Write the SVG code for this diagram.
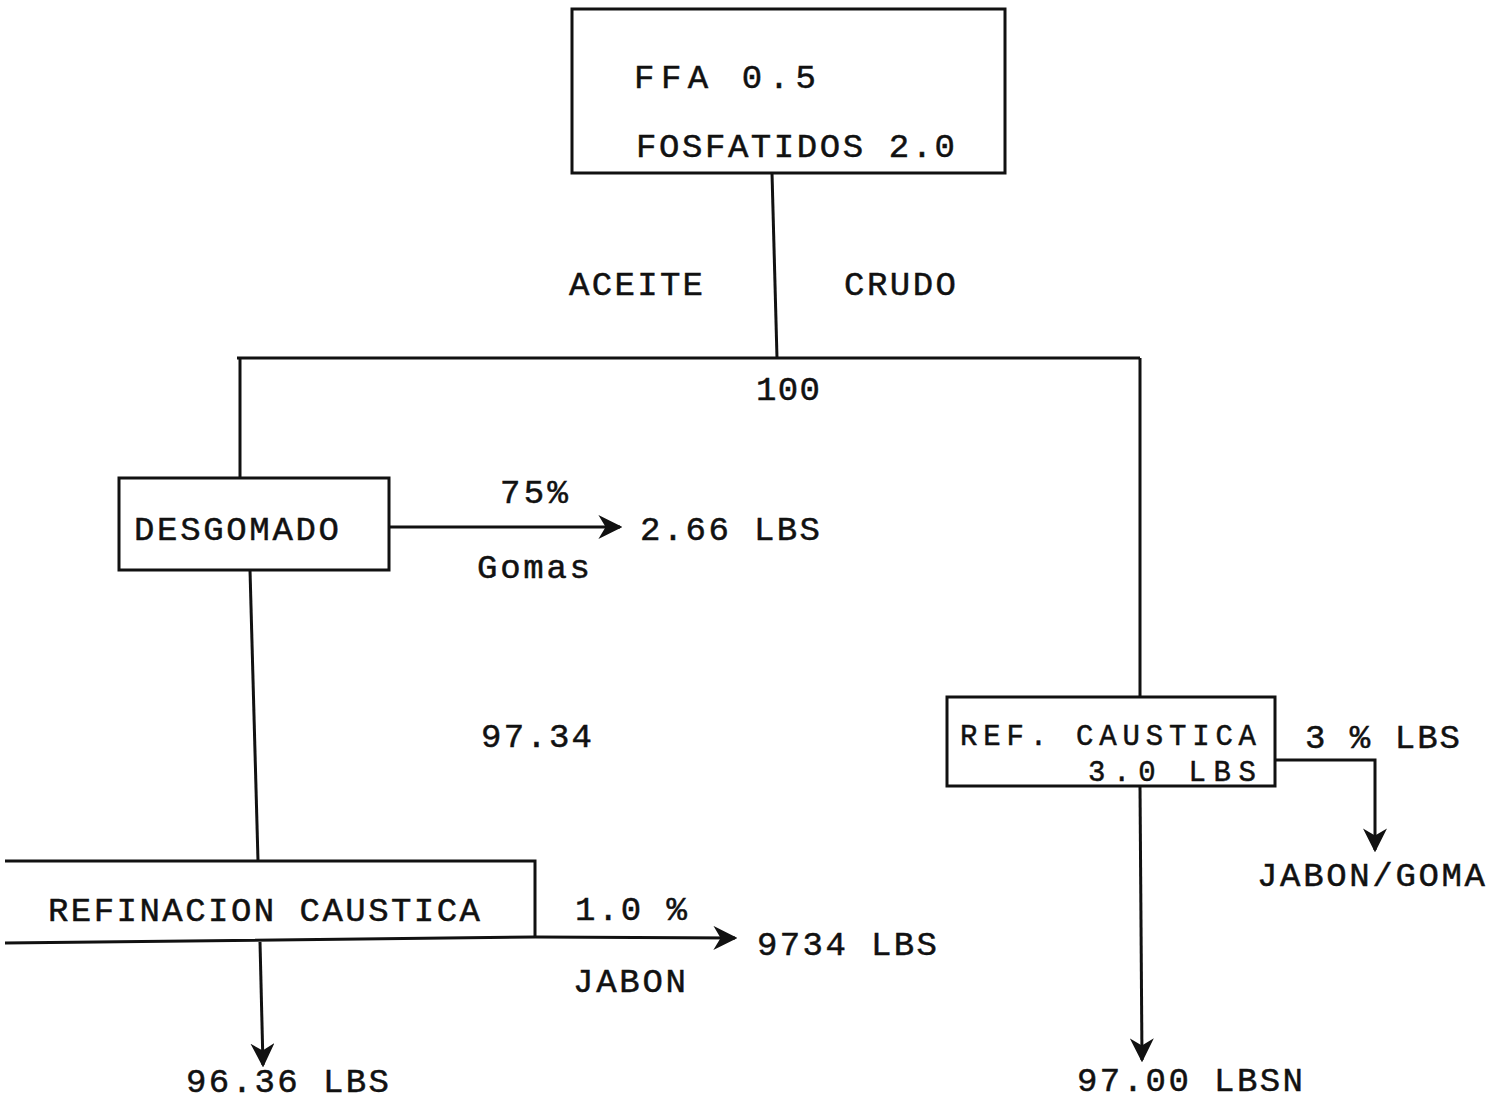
<svg xmlns="http://www.w3.org/2000/svg" width="1507" height="1101" viewBox="0 0 1507 1101">
<style>
.t{font-family:"Liberation Mono","Courier New",monospace;font-size:34px;fill:#111;stroke:#111;stroke-width:0.5;}
.s{font-size:29px;}
.box{fill:none;stroke:#111;stroke-width:3;}
.ln{fill:none;stroke:#111;stroke-width:3;}
</style>
<defs>
<marker id="ahl" viewBox="0 0 10 10" refX="9" refY="5" markerWidth="8" markerHeight="8" orient="auto">
<path d="M0,0 L10,5 L0,10 L3,5 Z" fill="#111"/>
</marker>
</defs>
<rect width="1507" height="1101" fill="#fff"/>
<g id="connectors">
<path class="ln" d="M772,173 L777,358"/>
<path class="ln" d="M237,358 L1140,358"/>
<path class="ln" d="M240,358 L240,478"/>
<path class="ln" d="M1140,358 L1140,697"/>
<path class="ln" d="M389,527 L620,527" marker-end="url(#ahl)"/>
<path class="ln" d="M250,570 L258,861"/>
<path class="ln" d="M5,943 L535,937 L735,938" marker-end="url(#ahl)"/>
<path class="ln" d="M260,942 L263,1065" marker-end="url(#ahl)"/>
<path class="ln" d="M1275,760 L1375,760 L1375,850" marker-end="url(#ahl)"/>
<path class="ln" d="M1140,786 L1142,1060" marker-end="url(#ahl)"/>
</g>
<g id="n-crudo">
<rect class="box" x="572" y="9" width="433" height="164"/>
<text class="t" x="634" y="88" textLength="182" lengthAdjust="spacing">FFA  0.5</text>
<text class="t" x="636" y="157" textLength="319" lengthAdjust="spacing">FOSFATIDOS 2.0</text>
</g>
<g id="lbl-aceite">
<text class="t" x="569" y="295" textLength="134" lengthAdjust="spacing">ACEITE</text>
<text class="t" x="844" y="295" textLength="112" lengthAdjust="spacing">CRUDO</text>
<text class="t" x="756" y="400" textLength="64" lengthAdjust="spacing">100</text>
</g>
<g id="n-desgomado">
<rect class="box" x="119" y="478" width="270" height="92"/>
<text class="t" x="134" y="540" textLength="205" lengthAdjust="spacing">DESGOMADO</text>
</g>
<g id="lbl-gomas">
<text class="t" x="500" y="503" textLength="68" lengthAdjust="spacing">75%</text>
<text class="t" x="640" y="540" textLength="180" lengthAdjust="spacing">2.66 LBS</text>
<text class="t" x="477" y="578" textLength="113" lengthAdjust="spacing">Gomas</text>
<text class="t" x="481" y="747" textLength="111" lengthAdjust="spacing">97.34</text>
</g>
<g id="n-refinacion">
<path class="box" d="M5,861 L535,861 L535,937"/>
<text class="t" x="48" y="921" textLength="432" lengthAdjust="spacing">REFINACION CAUSTICA</text>
</g>
<g id="lbl-jabon">
<text class="t" x="575" y="920" textLength="112" lengthAdjust="spacing">1.0 %</text>
<text class="t" x="757" y="955" textLength="180" lengthAdjust="spacing">9734 LBS</text>
<text class="t" x="573" y="992" textLength="113" lengthAdjust="spacing">JABON</text>
<text class="t" x="186" y="1092" textLength="203" lengthAdjust="spacing">96.36 LBS</text>
</g>
<g id="n-refcaustica">
<rect class="box" x="947" y="697" width="328" height="89"/>
<text class="t s" x="960" y="745" textLength="296" lengthAdjust="spacing">REF. CAUSTICA</text>
<text class="t s" x="1088" y="781" textLength="168" lengthAdjust="spacing">3.0 LBS</text>
</g>
<g id="lbl-right">
<text class="t" x="1305" y="748" textLength="155" lengthAdjust="spacing">3 % LBS</text>
<text class="t" x="1257" y="886" textLength="228" lengthAdjust="spacing">JABON/GOMA</text>
<text class="t" x="1077" y="1091" textLength="226" lengthAdjust="spacing">97.00 LBSN</text>
</g>
</svg>
